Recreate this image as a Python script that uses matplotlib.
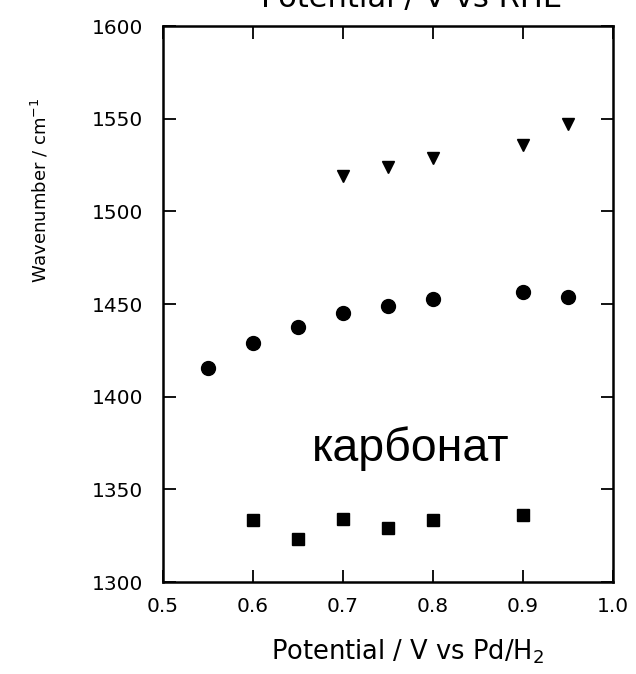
import matplotlib
matplotlib.use('Agg')
import matplotlib.pyplot as plt

# data
tri_x = [0.70, 0.75, 0.80, 0.90, 0.95]
tri_y = [1519, 1524, 1529, 1536, 1547]

circ_x = [0.55, 0.60, 0.65, 0.70, 0.75, 0.80, 0.90, 0.95]
circ_y = [1415.5, 1429, 1437.5, 1445, 1449, 1452.5, 1456.5, 1454]

sq_x = [0.60, 0.65, 0.70, 0.75, 0.80, 0.90]
sq_y = [1333.5, 1323, 1334, 1329, 1333.5, 1336]

xticks = [0.5, 0.6, 0.7, 0.8, 0.9, 1.0]
yticks = [1300, 1350, 1400, 1450, 1500, 1550, 1600]

W, H = 636, 674
fig = plt.figure(figsize=(W / 100, H / 100), dpi=100)
ax = fig.add_axes([163 / W, 1 - 582 / H, 450 / W, 556 / H])

ax.plot(tri_x, tri_y, 'v', color='black', markersize=9, linestyle='none')
ax.plot(circ_x, circ_y, 'o', color='black', markersize=10, linestyle='none')
ax.plot(sq_x, sq_y, 's', color='black', markersize=8.5, linestyle='none')

ax.set_xlim(0.5, 1.0)
ax.set_ylim(1300, 1600)
ax.set_xticks(xticks)
ax.set_yticks(yticks)
ax.set_xticklabels(['%.1f' % v for v in xticks])
ax.set_yticklabels([str(v) for v in yticks])
ax.tick_params(direction='in', length=9, width=1.3, top=True, right=True,
               labelsize=14.5)
ax.tick_params(axis='x', pad=11)
ax.tick_params(axis='y', pad=14)
for s in ax.spines.values():
    s.set_linewidth(1.8)

# labels
fig.text(40 / W, 1 - 190 / H, 'Wavenumber / cm$^{-1}$', rotation=90,
         ha='center', va='center', fontsize=13)
fig.text(407 / W, 1 - 652 / H, 'Potential / V vs Pd/H$_2$',
         ha='center', va='center', fontsize=18.5)
fig.text(412 / W, 1 - 7 / H, 'Potential / V vs RHE',
         ha='center', va='baseline', fontsize=22)

ax.text(0.7756, 1372, 'карбонат', ha='center', va='center',
        fontsize=33.5, family=['Liberation Sans', 'DejaVu Sans'])

fig.savefig('out.png', dpi=100, facecolor='white')
